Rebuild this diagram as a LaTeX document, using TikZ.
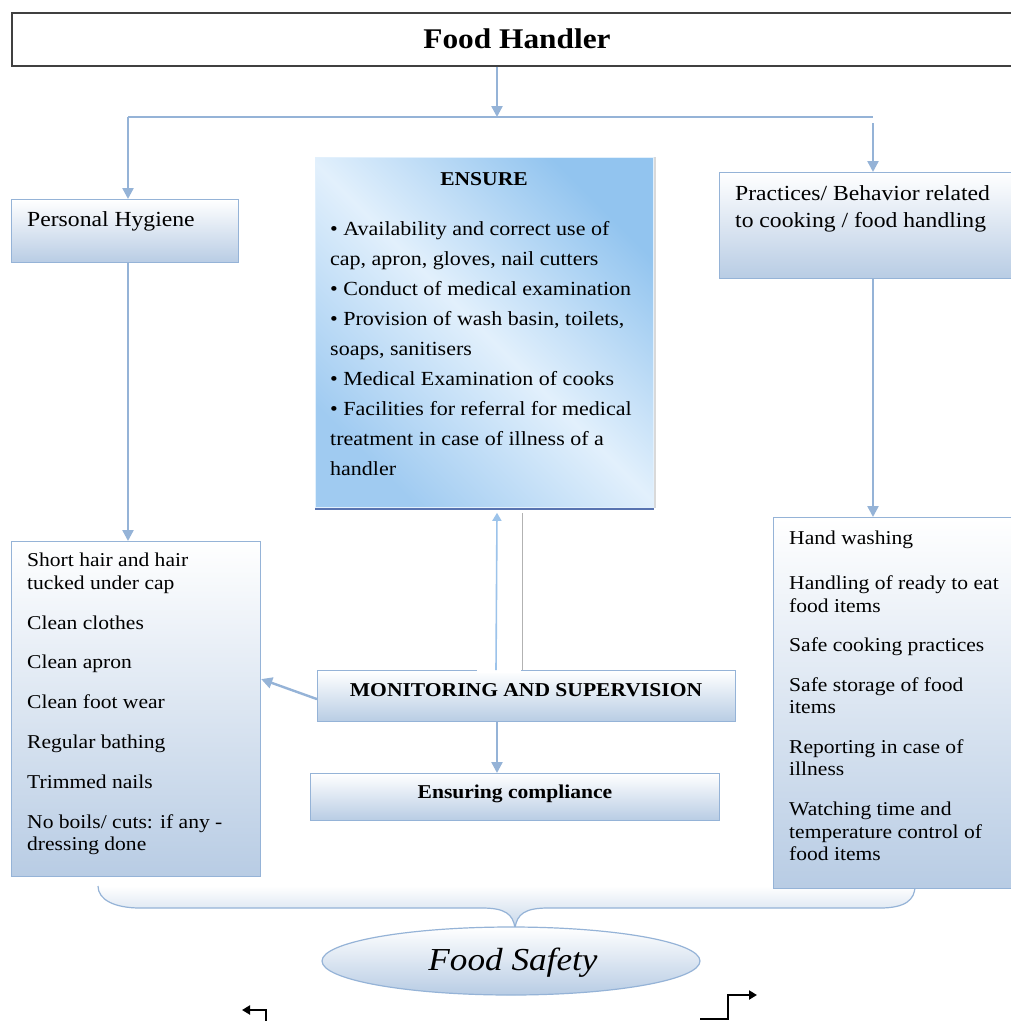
\documentclass[tikz,border=0pt]{standalone}
\usepackage{fontspec}
\setmainfont[FakeStretch=1.1]{Liberation Serif}
\usetikzlibrary{arrows.meta,positioning,shapes.geometric}
\definecolor{edgeblue}{HTML}{95B3D7}
\definecolor{fillblue}{HTML}{B8CCE4}
\definecolor{skyblue}{HTML}{92C4EF}
\definecolor{paleblue}{HTML}{E2F0FC}
\definecolor{shadeblue}{HTML}{A0CBF1}
\definecolor{shadowblue}{HTML}{5873B0}
\definecolor{framegray}{HTML}{404040}
\definecolor{arrowblue}{HTML}{9CC3EA}

\begin{document}
\begin{tikzpicture}[
    x=1pt, y=-1pt,
    box/.style={draw=edgeblue, line width=1.2pt, top color=white, bottom color=fillblue, inner sep=0pt, anchor=north west},
    txt/.style={inner sep=0pt, anchor=north west, align=left},
    hdr/.style={txt, font=\fontsize{21.5}{27}\selectfont},
    lst/.style={txt, font=\fontsize{19.6}{22.4}\selectfont},
    bold/.style={inner sep=0pt, font=\bfseries\fontsize{19.6}{23}\selectfont},
    link/.style={draw=edgeblue, line width=2.4pt, -{Triangle[width=11pt,length=11pt]}},
    uplink/.style={draw=arrowblue, line width=1.6pt, -{Triangle[width=9pt,length=8pt]}},
    rail/.style={draw=edgeblue, line width=2.4pt},
    turn/.style={draw=black, line width=2pt, -{Triangle[width=9pt,length=8pt]}},
  ]
  \useasboundingbox[fill=white] (0,0) rectangle (1011,1021);

  % brace under the two lists
  \path[top color=white, bottom color=fillblue!80] (98,886) .. controls (98,900) and (115,908) .. (140,908)
    -- (482,908) .. controls (505,908) and (513,914) .. (515,928)
    .. controls (517,914) and (525,908) .. (548,908) -- (880,908)
    .. controls (905,908) and (915,900) .. (915,886) -- cycle;
  \draw[edgeblue, line width=1.2pt] (98,886) .. controls (98,900) and (115,908) .. (140,908)
    -- (482,908) .. controls (505,908) and (513,914) .. (515,928)
    .. controls (517,914) and (525,908) .. (548,908) -- (880,908)
    .. controls (905,908) and (915,900) .. (915,886);

  % title
  \node[draw=framegray, line width=1.5pt, fill=white, minimum width=1010pt, minimum height=53pt,
        inner sep=0pt, anchor=north west] (handler) at (11,12) {};
  \node[font=\bfseries\fontsize{28.5}{30}\selectfont, inner sep=0pt] (handlertxt) at (517,39) {Food Handler};

  % headings
  \node[box, minimum width=227pt, minimum height=63pt] (hyg) at (11,199) {};
  \node[hdr] (hygtxt) at (27,211) {Personal Hygiene};
  \node[box, minimum width=300pt, minimum height=106pt] (prac) at (719,172) {};
  \node[hdr] (practxt) at (735,185) {Practices/ Behavior related\\to cooking / food handling};

  % ensure box
  \node[draw=paleblue, line width=0.8pt, minimum width=338pt, minimum height=350pt, inner sep=0pt,
        anchor=north west, top color=skyblue, bottom color=shadeblue, middle color=paleblue,
        shading angle=-45] (ens) at (315,157) {};
  \draw[shadowblue, line width=2pt] ([yshift=-1pt]ens.south west) -- ([yshift=-1pt]ens.south east);
  \draw[gray!30, line width=1.5pt] ([xshift=1pt]ens.north east) -- ([xshift=1pt]ens.south east);
  \node[bold] (enstitle) at (484,179) {ENSURE};
  \node[txt, font=\fontsize{20}{30}\selectfont] (enstxt) at (330,221)
    {\textbullet{} Availability and correct use of\\
     cap, apron, gloves, nail cutters\\
     \textbullet{} Conduct of medical examination\\
     \textbullet{} Provision of wash basin, toilets,\\
     soaps, sanitisers\\
     \textbullet{} Medical Examination of cooks\\
     \textbullet{} Facilities for referral for medical\\
     treatment in case of illness of a\\
     handler};

  % lists
  \node[box, minimum width=249pt, minimum height=335pt] (hyglist) at (11,541) {};
  \node[lst] (hyglisttxt) at (27,553)
    {Short hair and hair\\tucked under cap\\[17.4pt]
     Clean clothes\\[17.4pt]
     Clean apron\\[17.4pt]
     Clean foot wear\\[17.4pt]
     Regular bathing\\[17.4pt]
     Trimmed nails\\[17.4pt]
     No boils/ cuts: if any -\\dressing done};
  \node[box, minimum width=250pt, minimum height=371pt] (praclist) at (773,517) {};
  \node[lst] (praclisttxt) at (789,531)
    {Hand washing\\[22.4pt]
     Handling of ready to eat\\food items\\[17.4pt]
     Safe cooking practices\\[17pt]
     Safe storage of food\\items\\[17.4pt]
     Reporting in case of\\illness\\[17.4pt]
     Watching time and\\temperature control of\\food items};

  % monitoring and compliance
  \node[box, minimum width=418pt, minimum height=51pt] (mon) at (317,670) {};
  \node[bold] (montxt) at (526,690) {MONITORING AND SUPERVISION};
  \node[box, minimum width=409pt, minimum height=47pt] (comp) at (310,773) {};
  \node[bold] (comptxt) at (515,794) {Ensuring compliance};

  % food safety
  \node[ellipse, draw=edgeblue, line width=1.2pt, top color=white, bottom color=fillblue,
        minimum width=378pt, minimum height=68pt, inner sep=0pt] (safety) at (511,961) {};
  \node[font=\itshape\fontsize{32}{34}\selectfont, inner sep=0pt] (safetytxt) at (513,963) {Food Safety};

  % connectors
  \coordinate (axis) at (497,0);
  \coordinate (gap) at (522,0);
  \coordinate (split) at (497,117);
  \coordinate (lt) at (128,117);
  \coordinate (rt) at (873,117);
  \draw[link] (handler.south -| axis) -- (split);
  \draw[rail] (lt) -- (rt);
  \draw[link] (lt) -- (lt |- hyg.north);
  \draw[link] ([yshift=-6pt]rt) -- (rt |- prac.north);
  \draw[link] (hyg.south -| lt) -- (hyglist.north -| lt);
  \draw[link] (prac.south -| rt) -- (praclist.north -| rt);
  \draw[link] ([yshift=-3pt]mon.west) -- ([yshift=30pt]hyglist.east);
  \draw[link] (mon.south -| axis) -- (comp.north -| axis);
  \fill[white] (477,667) rectangle (521,673);
  \draw[uplink] ([xshift=-1pt]mon.north -| axis) -- ([yshift=-5pt]ens.south -| axis);
  \draw[gray!60, line width=0.8pt] (mon.north -| gap) -- ([yshift=-5pt]ens.south -| gap);

  % little turn arrows at the foot
  \coordinate (lfoot) at (266,1023);
  \coordinate (lbend) at (266,1010);
  \coordinate (lend) at (242,1010);
  \draw[turn] (lfoot) -- (lbend) -- (lend);
  \coordinate (rfoot) at (700,1019);
  \coordinate (rbend) at (728,1019);
  \coordinate (rrise) at (728,995);
  \coordinate (rend) at (757,995);
  \draw[turn] (rfoot) -- (rbend) -- (rrise) -- (rend);
\end{tikzpicture}
\end{document}
